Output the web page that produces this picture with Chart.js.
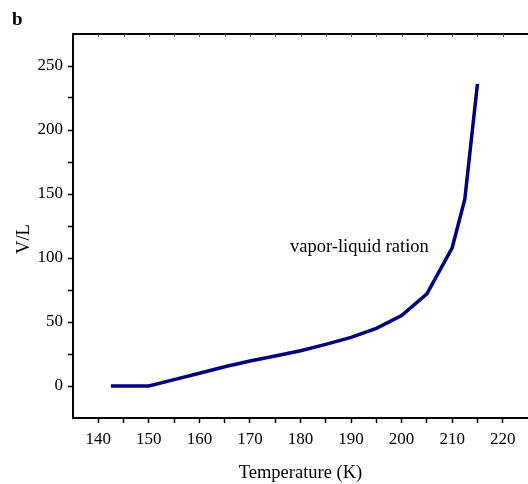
<!DOCTYPE html>
<html>
<head>
<meta charset="utf-8">
<script src="https://cdn.jsdelivr.net/npm/chart.js@4/dist/chart.umd.min.js"></script>
<style>
  html, body { margin: 0; padding: 0; background: #fff; }
  #wrap { width: 528px; height: 484px; }
</style>
</head>
<body>
<div id="wrap"><canvas id="chart" width="528" height="484"></canvas></div>
<script>
// temperature (K) and vapor/liquid ratio
const temps = [142.5, 150, 155, 160, 165, 170, 175, 180, 185, 190, 195, 200, 205, 210, 212.5, 215];
const ratio = [0, 0, 5, 10, 15, 19.5, 23.5, 27.5, 32.5, 38, 45, 55, 72, 108, 146, 236];

const xMajor = [140, 150, 160, 170, 180, 190, 200, 210, 220];
const xMinor = [145, 155, 165, 175, 185, 195, 205, 215];
const yMajor = [0, 50, 100, 150, 200, 250];
const yMinor = [25, 75, 125, 175, 225];

const serif = "'Liberation Serif', 'Times New Roman', serif";
Chart.defaults.font.family = serif;
Chart.defaults.color = "#000";

function setTicks(major, minor) {
  return function (scale) {
    const all = major.map(v => ({ value: v, major: true }))
      .concat(minor.map(v => ({ value: v, major: false })))
      .sort((a, b) => a.value - b.value);
    scale.ticks = all;
  };
}

function tickLabel(major) {
  return function (value) {
    return major.includes(value) ? String(value) : "";
  };
}

// top frame line, panel letter, annotation and y title
const extras = {
  id: "extras",
  afterDraw(chart) {
    const { ctx, chartArea } = chart;
    const xs = chart.scales.x;
    ctx.save();
    ctx.strokeStyle = "#000";
    ctx.lineWidth = 2;
    ctx.beginPath();
    ctx.moveTo(chartArea.left - 1, chartArea.top);
    ctx.lineTo(528, chartArea.top);
    ctx.stroke();
    ctx.lineWidth = 1;
    ctx.strokeStyle = "#555";
    ctx.beginPath();
    xMajor.concat(xMinor).forEach(v => {
      const px = Math.round(xs.getPixelForValue(v)) + 0.5;
      ctx.moveTo(px, chartArea.top);
      ctx.lineTo(px, chartArea.top + 3);
    });
    ctx.stroke();

    ctx.fillStyle = "#000";
    ctx.font = "bold 19px " + serif;
    ctx.textAlign = "left";
    ctx.textBaseline = "alphabetic";
    ctx.fillText("b", 12, 25);

    ctx.font = "18.5px " + serif;
    ctx.fillText("vapor-liquid ration", 290, 252);

    ctx.translate(24, 239);
    ctx.rotate(-Math.PI / 2);
    ctx.textAlign = "center";
    ctx.textBaseline = "middle";
    ctx.fillText("V/L", 0, 0);
    ctx.restore();
  }
};

new Chart(document.getElementById("chart"), {
  type: "scatter",
  data: {
    datasets: [{
      data: temps.map((t, i) => ({ x: t, y: ratio[i] })),
      showLine: true,
      borderColor: "#000080",
      borderWidth: 3.5,
      pointRadius: 0,
      tension: 0
    }]
  },
  options: {
    responsive: false,
    animation: false,
    layout: { padding: { top: 34, right: 0, left: 0, bottom: 0 } },
    plugins: { legend: { display: false }, tooltip: { enabled: false } },
    scales: {
      x: {
        min: 135,
        max: 225,
        afterBuildTicks: setTicks(xMajor, xMinor),
        afterFit(scale) { scale.height = 66; },
        grid: { drawOnChartArea: false, tickLength: 5, tickColor: "#000", tickWidth: 1.5 },
        border: { color: "#000", width: 2 },
        ticks: { padding: 6, font: { size: 17 }, maxRotation: 0, autoSkip: false, callback: tickLabel(xMajor) },
        title: { display: true, text: "Temperature (K)", font: { size: 18.5 }, padding: { top: 0, bottom: 0 } }
      },
      y: {
        min: -25,
        max: 275,
        afterBuildTicks: setTicks(yMajor, yMinor),
        afterFit(scale) { scale.width = 73; },
        grid: { drawOnChartArea: false, tickLength: 5, tickColor: "#000", tickWidth: 1.5 },
        border: { color: "#000", width: 2 },
        ticks: { padding: 5, font: { size: 17 }, autoSkip: false, callback: tickLabel(yMajor) }
      }
    }
  },
  plugins: [extras]
});
</script>
</body>
</html>
